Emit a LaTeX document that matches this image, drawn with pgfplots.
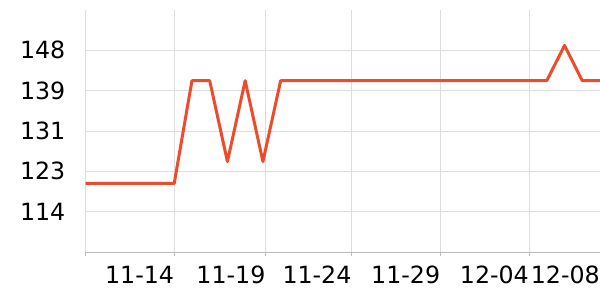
\documentclass[border=0pt]{standalone}
\usepackage{fontspec}
\setmainfont{DejaVu Sans}
\usepackage{pgfplots}
\pgfplotsset{compat=1.18}
\definecolor{linec}{HTML}{EE4B2B}
\definecolor{gridc}{HTML}{DDDDDD}
\definecolor{axc}{HTML}{BBBBBB}
\begin{document}
\begin{tikzpicture}[x=1bp,y=1bp]
\path[use as bounding box] (0,0) rectangle (600,300);
\begin{axis}[
  at={(85.5bp,48bp)}, anchor=south west,
  scale only axis, width=514.5bp, height=242bp,
  xmin=0, xmax=29, ymin=105.6, ymax=156.45,
  axis x line*=bottom, axis y line*=left,
  x axis line style={axc, line width=1bp},
  y axis line style={draw=none},
  xtick={0,5,10.15,15,20,25,29},
  xticklabels={,11-14,11-19,11-24,11-29,12-04,12-08},
  ytick={114.075,122.55,131.025,139.5,147.975},
  yticklabels={114,123,131,139,148},
  ytick style={draw=none},
  xtick style={axc, line width=1bp},
  tick align=outside, major tick length=4bp,
  grid=major, major grid style={gridc, line width=0.9bp},
  /pgf/number format/assume math mode=true,
  tick label style={font=\fontsize{23.8}{28}\selectfont, text=black},
  xticklabel style={anchor=base east, inner sep=0pt, yshift=-27bp},
  yticklabel style={anchor=east, inner sep=0pt, xshift=-16bp},
]
\addplot[linec, line width=3bp, line join=round, mark=none] coordinates {
(0,120) (1,120) (2,120) (3,120) (4,120) (5,120)
(6,141.6) (7,141.6) (8,124.6) (9,141.6) (10,124.6) (11,141.6)
(12,141.6) (13,141.6) (14,141.6) (15,141.6) (16,141.6) (17,141.6)
(18,141.6) (19,141.6) (20,141.6) (21,141.6) (22,141.6) (23,141.6)
(24,141.6) (25,141.6) (26,141.6) (27,149) (28,141.6) (29,141.6)
};
\end{axis}
\end{tikzpicture}
\end{document}
